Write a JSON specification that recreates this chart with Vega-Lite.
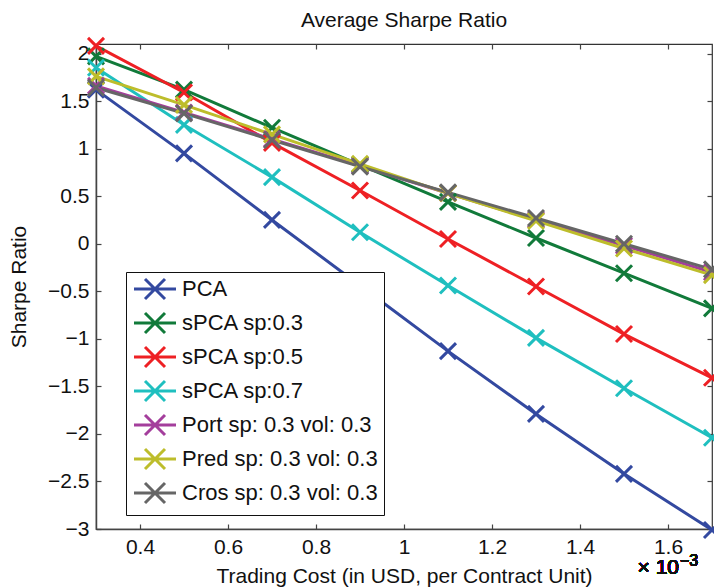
{
  "$schema": "https://vega.github.io/schema/vega-lite/v6.json",
  "width": 616,
  "height": 485,
  "autosize": {"type": "none"},
  "padding": {"left": 96, "top": 44, "right": 2, "bottom": 59},
  "background": "white",
  "title": {"text": "Average Sharpe Ratio", "fontSize": 21, "fontWeight": "normal", "font": "Liberation Sans", "color": "#111", "offset": 1},
  "data": {"values": [
    {"series": "PCA", "x": 0.3, "y": 1.62}, {"series": "PCA", "x": 0.5, "y": 0.95}, {"series": "PCA", "x": 0.7, "y": 0.25}, {"series": "PCA", "x": 0.9, "y": -0.44}, {"series": "PCA", "x": 1.1, "y": -1.13}, {"series": "PCA", "x": 1.3, "y": -1.79}, {"series": "PCA", "x": 1.5, "y": -2.42}, {"series": "PCA", "x": 1.7, "y": -3.01},
    {"series": "sPCA sp:0.3", "x": 0.3, "y": 1.97}, {"series": "sPCA sp:0.3", "x": 0.5, "y": 1.62}, {"series": "sPCA sp:0.3", "x": 0.7, "y": 1.22}, {"series": "sPCA sp:0.3", "x": 0.9, "y": 0.83}, {"series": "sPCA sp:0.3", "x": 1.1, "y": 0.44}, {"series": "sPCA sp:0.3", "x": 1.3, "y": 0.06}, {"series": "sPCA sp:0.3", "x": 1.5, "y": -0.31}, {"series": "sPCA sp:0.3", "x": 1.7, "y": -0.68},
    {"series": "sPCA sp:0.5", "x": 0.3, "y": 2.08}, {"series": "sPCA sp:0.5", "x": 0.5, "y": 1.59}, {"series": "sPCA sp:0.5", "x": 0.7, "y": 1.06}, {"series": "sPCA sp:0.5", "x": 0.9, "y": 0.56}, {"series": "sPCA sp:0.5", "x": 1.1, "y": 0.05}, {"series": "sPCA sp:0.5", "x": 1.3, "y": -0.45}, {"series": "sPCA sp:0.5", "x": 1.5, "y": -0.95}, {"series": "sPCA sp:0.5", "x": 1.7, "y": -1.41},
    {"series": "sPCA sp:0.7", "x": 0.3, "y": 1.85}, {"series": "sPCA sp:0.7", "x": 0.5, "y": 1.25}, {"series": "sPCA sp:0.7", "x": 0.7, "y": 0.7}, {"series": "sPCA sp:0.7", "x": 0.9, "y": 0.12}, {"series": "sPCA sp:0.7", "x": 1.1, "y": -0.44}, {"series": "sPCA sp:0.7", "x": 1.3, "y": -0.99}, {"series": "sPCA sp:0.7", "x": 1.5, "y": -1.52}, {"series": "sPCA sp:0.7", "x": 1.7, "y": -2.04},
    {"series": "Port sp: 0.3 vol: 0.3", "x": 0.3, "y": 1.66}, {"series": "Port sp: 0.3 vol: 0.3", "x": 0.5, "y": 1.38}, {"series": "Port sp: 0.3 vol: 0.3", "x": 0.7, "y": 1.1}, {"series": "Port sp: 0.3 vol: 0.3", "x": 0.9, "y": 0.82}, {"series": "Port sp: 0.3 vol: 0.3", "x": 1.1, "y": 0.53}, {"series": "Port sp: 0.3 vol: 0.3", "x": 1.3, "y": 0.25}, {"series": "Port sp: 0.3 vol: 0.3", "x": 1.5, "y": -0.02}, {"series": "Port sp: 0.3 vol: 0.3", "x": 1.7, "y": -0.3},
    {"series": "Pred sp: 0.3 vol: 0.3", "x": 0.3, "y": 1.76}, {"series": "Pred sp: 0.3 vol: 0.3", "x": 0.5, "y": 1.46}, {"series": "Pred sp: 0.3 vol: 0.3", "x": 0.7, "y": 1.15}, {"series": "Pred sp: 0.3 vol: 0.3", "x": 0.9, "y": 0.84}, {"series": "Pred sp: 0.3 vol: 0.3", "x": 1.1, "y": 0.53}, {"series": "Pred sp: 0.3 vol: 0.3", "x": 1.3, "y": 0.24}, {"series": "Pred sp: 0.3 vol: 0.3", "x": 1.5, "y": -0.05}, {"series": "Pred sp: 0.3 vol: 0.3", "x": 1.7, "y": -0.33},
    {"series": "Cros sp: 0.3 vol: 0.3", "x": 0.3, "y": 1.64}, {"series": "Cros sp: 0.3 vol: 0.3", "x": 0.5, "y": 1.37}, {"series": "Cros sp: 0.3 vol: 0.3", "x": 0.7, "y": 1.09}, {"series": "Cros sp: 0.3 vol: 0.3", "x": 0.9, "y": 0.81}, {"series": "Cros sp: 0.3 vol: 0.3", "x": 1.1, "y": 0.54}, {"series": "Cros sp: 0.3 vol: 0.3", "x": 1.3, "y": 0.27}, {"series": "Cros sp: 0.3 vol: 0.3", "x": 1.5, "y": 0.0}, {"series": "Cros sp: 0.3 vol: 0.3", "x": 1.7, "y": -0.27}
  ]},
  "resolve": {"axis": {"x": "independent", "y": "independent"}},
  "layer": [
    {
      "mark": {"type": "line", "strokeWidth": 3, "clip": false},
      "encoding": {
        "x": {"field": "x", "type": "quantitative", "scale": {"domain": [0.3, 1.7], "nice": false},
          "axis": {"orient": "bottom", "values": [0.4, 0.6, 0.8, 1, 1.2, 1.4, 1.6], "format": "~g", "grid": false, "tickSize": -5, "labelPadding": 12, "title": "Trading Cost (in USD, per Contract Unit)", "titlePadding": 8}},
        "y": {"field": "y", "type": "quantitative", "scale": {"domain": [-3, 2.1], "nice": false},
          "axis": {"orient": "left", "values": [-3, -2.5, -2, -1.5, -1, -0.5, 0, 0.5, 1, 1.5, 2], "format": "~g", "grid": false, "tickSize": -5, "labelPadding": 12, "title": "Sharpe Ratio", "titlePadding": 18}},
        "color": {"field": "series", "type": "nominal",
          "scale": {"domain": ["PCA", "sPCA sp:0.3", "sPCA sp:0.5", "sPCA sp:0.7", "Port sp: 0.3 vol: 0.3", "Pred sp: 0.3 vol: 0.3", "Cros sp: 0.3 vol: 0.3"],
                    "range": ["#3349a0", "#117a3a", "#ee2024", "#1fbfbf", "#a43e9c", "#bdbd2b", "#666666"]},
          "legend": {"orient": "none", "legendX": 30, "legendY": 228, "title": null,
            "symbolType": "M-4.2,0H4.2M-2,-2L2,2M-2,2L2,-2", "symbolSize": 100, "symbolStrokeWidth": 3,
            "labelFontSize": 22, "labelFont": "Liberation Sans", "labelColor": "#111", "labelOffset": 16, "labelLimit": 400,
            "rowPadding": 2, "padding": 6, "strokeColor": "#111", "fillColor": "white", "symbolOffset": 12}},
        "order": {"field": "x"}
      }
    },
    {
      "mark": {"type": "point", "shape": "M-1,-1L1,1M-1,1L1,-1", "filled": false, "strokeWidth": 3, "size": 256, "opacity": 1, "clip": false},
      "encoding": {
        "x": {"field": "x", "type": "quantitative", "axis": null},
        "y": {"field": "y", "type": "quantitative", "axis": null},
        "color": {"field": "series", "type": "nominal"}
      }
    },
    {
      "mark": {"type": "point", "opacity": 0},
      "encoding": {
        "x": {"field": "x", "type": "quantitative",
          "axis": {"orient": "top", "values": [0.4, 0.6, 0.8, 1, 1.2, 1.4, 1.6], "labels": false, "title": null, "domain": false, "grid": false, "tickSize": -5}},
        "y": {"field": "y", "type": "quantitative",
          "axis": {"orient": "right", "values": [-3, -2.5, -2, -1.5, -1, -0.5, 0, 0.5, 1, 1.5, 2], "labels": false, "title": null, "domain": false, "grid": false, "tickSize": -5}}
      }
    },
    {
      "mark": {"type": "text", "text": "× 10", "align": "right", "baseline": "alphabetic", "dy": 45, "dx": -33, "fontSize": 21, "font": "Liberation Sans", "color": "#111"},
      "encoding": {"x": {"datum": 1.7, "type": "quantitative", "axis": null}, "y": {"datum": -3, "type": "quantitative", "axis": null}}
    },
    {
      "mark": {"type": "text", "text": "−3", "align": "left", "baseline": "alphabetic", "dy": 37, "dx": -32, "fontSize": 16, "font": "Liberation Sans", "color": "#111"},
      "encoding": {"x": {"datum": 1.7, "type": "quantitative", "axis": null}, "y": {"datum": -3, "type": "quantitative", "axis": null}}
    }
  ],
  "config": {
    "view": {"stroke": "#333", "strokeWidth": 1.2},
    "font": "Liberation Sans",
    "axis": {"labelFontSize": 21, "titleFontSize": 21, "titleFontWeight": "normal", "labelColor": "#111", "titleColor": "#111", "domainColor": "#444", "tickColor": "#444", "domainWidth": 1.5, "tickWidth": 1.2, "labelFont": "Liberation Sans", "titleFont": "Liberation Sans"}
  }
}
